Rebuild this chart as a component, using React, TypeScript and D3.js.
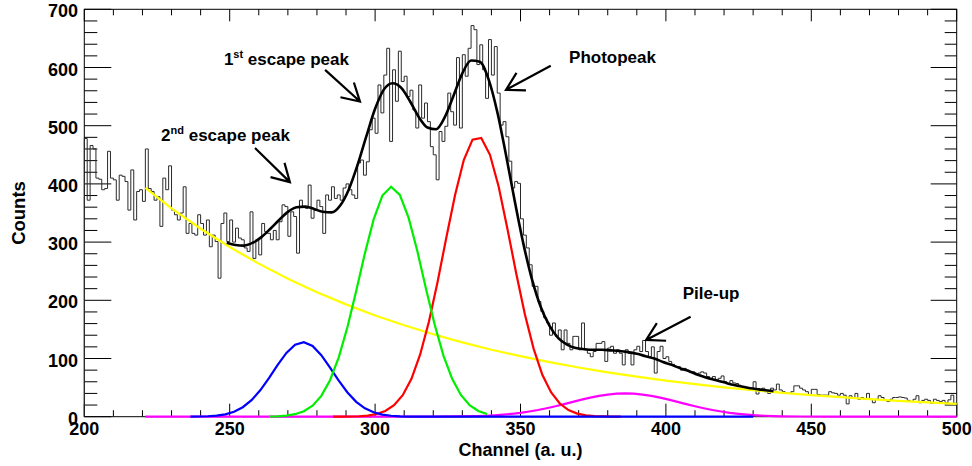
import React from "react";
import * as d3 from "d3";

const WIDTH = 972;
const HEIGHT = 466;
const FRAME = { left: 84.3, right: 956.7, top: 9.3, bottom: 416.7 };
const FONT = "'Liberation Sans', Arial, Helvetica, sans-serif";

// Axis ranges and tick labels
const channelDomain: [number, number] = [200, 500];
const countDomain: [number, number] = [0, 700];
const xMajorTicks = [200, 250, 300, 350, 400, 450, 500];
const yMajorTicks = [0, 100, 200, 300, 400, 500, 600, 700];
const xTitle = "Channel (a. u.)";
const yTitle = "Counts";

// Measured spectrum, one count per channel starting at channel 200
const FIRST_CHANNEL = 200;
const countsFrom200 = [
  478, 372, 466, 460, 410, 408, 390, 392, 456, 410,
  407, 372, 415, 413, 404, 355, 424, 338, 387, 390,
  370, 460, 392, 387, 372, 378, 327, 410, 390, 431,
  355, 347, 338, 350, 395, 315, 332, 315, 312, 347,
  332, 312, 338, 292, 312, 301, 238, 332, 350, 301,
];
const countsFrom250 = [
  338, 300, 324, 307, 304, 290, 284, 352, 272, 304,
  278, 332, 318, 315, 304, 320, 304, 335, 364, 361,
  310, 352, 344, 281, 372, 361, 358, 398, 341, 355,
  372, 361, 315, 381, 372, 395, 375, 381, 372, 393,
  400, 390, 381, 375, 436, 441, 415, 438, 493, 513,
];
const countsFrom300 = [
  487, 570, 522, 587, 633, 473, 596, 542, 628, 576,
  585, 550, 561, 527, 496, 570, 513, 539, 507, 464,
  450, 407, 490, 473, 499, 556, 524, 501, 617, 496,
  622, 585, 633, 672, 665, 605, 639, 596, 547, 648,
  587, 636, 556, 501, 507, 481, 439, 393, 404, 401,
];
const countsFrom350 = [
  340, 312, 290, 261, 224, 224, 198, 181, 170, 161,
  140, 161, 138, 149, 115, 149, 126, 115, 138, 138,
  115, 161, 115, 109, 103, 112, 126, 126, 129, 95,
  118, 121, 109, 115, 109, 89, 115, 109, 89, 115,
  121, 112, 131, 112, 103, 120, 75, 112, 121, 100,
];
const countsFrom400 = [
  103, 95, 90, 86, 86, 80, 83, 80, 77, 77,
  72, 75, 77, 75, 69, 66, 69, 63, 66, 70,
  60, 57, 62, 58, 57, 52, 52, 49, 46, 49,
  60, 39, 46, 49, 43, 40, 49, 46, 56, 46,
  43, 41, 40, 43, 53, 53, 49, 46, 43, 37,
];
const countsFrom450 = [
  47, 47, 38, 37, 37, 37, 43, 41, 40, 37,
  40, 37, 22, 36, 33, 40, 30, 33, 30, 40,
  30, 24, 30, 36, 33, 28, 26, 30, 33, 33,
  34, 33, 32, 28, 26, 30, 36, 24, 28, 30,
  28, 23, 30, 28, 26, 28, 24, 29, 37, 23,
];
const histogramCounts = [
  ...countsFrom200, ...countsFrom250, ...countsFrom300,
  ...countsFrom350, ...countsFrom400, ...countsFrom450,
];

// Fit components as [channel, counts] samples
const backgroundFit: [number, number][] = [
  [221, 393], [230, 358], [240, 323], [250, 291.5], [260, 263], [270, 237],
  [280, 214], [290, 193], [300, 174], [310, 157], [320, 141.6], [330, 127.8],
  [340, 115], [350, 104], [360, 93.8], [370, 84.6], [380, 76.3], [390, 68.8],
  [400, 62.1], [410, 56], [420, 50.5], [430, 45.6], [440, 41.1], [450, 37.1],
  [460, 33.5], [470, 30.2], [480, 27.2], [490, 24.6], [500, 22.2],
];
const secondEscapeFit: [number, number][] = [
  [236.5, 0.1], [239.5, 0.3], [242.5, 0.8], [245.5, 1.8], [248.5, 4.1], [251.5, 8.6],
  [254.5, 16.3], [257.5, 28.4], [260.5, 45.3], [263.5, 66.3], [266.5, 89], [269.5, 109.5],
  [272.5, 123.6], [275.5, 128], [278.5, 121.5], [281.5, 105.8], [284.5, 84.5], [287.5, 61.9],
  [290.5, 41.6], [293.5, 25.6], [296.5, 14.5], [299.5, 7.5], [302.5, 3.6], [305.5, 1.6],
  [308.5, 0.6], [311.5, 0.2], [314.5, 0.1], [430, 0],
];
const firstEscapeFit: [number, number][] = [
  [263.5, 0.3], [266.5, 0.7], [269.5, 1.8], [272.5, 4.3], [275.5, 9.3], [278.5, 19],
  [281.5, 35.8], [284.5, 62.7], [287.5, 102], [290.5, 154], [293.5, 216], [296.5, 281],
  [299.5, 339], [302.5, 380], [305.5, 395], [308.5, 381], [311.5, 342], [314.5, 285],
  [317.5, 220], [320.5, 158], [323.5, 105], [326.5, 65], [329.5, 37.3], [332.5, 19.9],
  [335.5, 9.8], [338.5, 4.5],
];
const photopeakFit: [number, number][] = [
  [285.5, 0], [288.5, 0.1], [291.5, 0.3], [294.5, 0.8], [297.5, 2], [300.5, 4.6],
  [303.5, 9.9], [306.5, 19.8], [309.5, 37], [312.5, 65], [315.5, 107], [318.5, 163],
  [321.5, 232], [324.5, 308], [327.5, 381], [330.5, 441], [333.5, 476], [336.5, 479],
  [339.5, 450], [342.5, 395], [345.5, 323], [348.5, 247], [351.5, 176], [354.5, 117],
  [357.5, 72], [360.5, 42], [363.5, 22.6], [366.5, 11.4], [369.5, 5.3], [372.5, 2.3],
  [375.5, 1], [378.5, 0.4], [381.5, 0.1], [384.5, 0],
];
const pileUpFit: [number, number][] = [
  [221, 0], [320, 0], [335, 1.1], [338, 1.6], [341, 2.4], [344, 3.5], [347, 4.9],
  [350, 6.6], [353, 8.9], [356, 11.5], [359, 14.6], [362, 18], [365, 21.7], [368, 25.5],
  [371, 29.3], [374, 32.8], [377, 35.8], [380, 38], [383, 39.5], [386, 40], [389, 39.5],
  [392, 38], [395, 35.8], [398, 32.8], [401, 29.3], [404, 25.5], [407, 21.7], [410, 18],
  [413, 14.6], [416, 11.5], [419, 8.9], [422, 6.6], [425, 4.9], [428, 3.5], [431, 2.4],
  [434, 1.6], [437, 1.1], [440, 0.7], [446, 0.3], [455, 0], [500, 0],
];
const totalFit: [number, number][] = [
  [249, 299], [252, 295], [255, 294], [258, 299], [261, 309], [264, 323], [267, 338],
  [270, 352], [273, 360], [276, 361], [279, 357], [282, 352], [285, 351], [288, 363],
  [291, 391], [294, 433], [297, 482], [300, 529], [303, 562], [306, 573], [309, 565],
  [312, 542], [315, 515], [318, 497], [321, 494], [324, 515], [327, 552], [330, 590],
  [333, 612], [336, 610], [339, 580], [342, 524], [345, 450], [348, 371], [351, 297],
  [354, 235], [357, 188], [360, 156], [363, 135], [366, 124], [369, 118], [372, 116],
  [375, 115], [378, 115], [381, 114], [384, 113], [387, 111], [390, 108], [393, 104],
  [396, 100], [399, 94], [402, 89], [405, 83], [408, 78], [411, 72], [414, 67],
  [417, 63], [420, 59], [423, 55], [426, 52], [429, 49], [432, 47], [435, 45], [437, 44],
];

// Annotated peaks: label anchor, arrow tail and arrow tip in data coordinates
type Note = { base: string; sup?: string; rest?: string; at: [number, number]; tail: [number, number]; tip: [number, number] };
const notes: Note[] = [
  { base: "2", sup: "nd", rest: " escape peak", at: [226.4, 474], tail: [258.7, 461.7], tip: [270.7, 403] },
  { base: "1", sup: "st", rest: " escape peak", at: [248.0, 604.7], tail: [282.8, 596], tip: [294.8, 541.5] },
  { base: "Photopeak", at: [366.7, 608.1], tail: [360.4, 602.9], tip: [345.0, 561.6] },
  { base: "Pile-up", at: [405.8, 202.3], tail: [408.5, 171.9], tip: [393.2, 131.9] },
];

export default function App() {
  const x = d3.scaleLinear().domain(channelDomain).range([FRAME.left, FRAME.right]);
  const y = d3.scaleLinear().domain(countDomain).range([FRAME.bottom, FRAME.top]);

  const histPoints: [number, number][] = [
    [FIRST_CHANNEL, 0],
    ...histogramCounts.map((c, i) => [FIRST_CHANNEL + i, c] as [number, number]),
    [FIRST_CHANNEL + histogramCounts.length, histogramCounts[histogramCounts.length - 1]],
    [FIRST_CHANNEL + histogramCounts.length, 0],
  ];
  const histLine = d3
    .line<[number, number]>()
    .x((d) => x(d[0]))
    .y((d) => y(d[1]))
    .curve(d3.curveStepAfter);

  const fitLine = d3
    .line<[number, number]>()
    .x((d) => x(d[0]))
    .y((d) => y(d[1]));
  const smoothLine = d3
    .line<[number, number]>()
    .x((d) => x(d[0]))
    .y((d) => y(d[1]))
    .curve(d3.curveMonotoneX);

  const xMinor = d3.range(200, 501, 10).filter((v) => v % 50 !== 0);
  const yMinor = d3.range(0, 701, 20).filter((v) => v % 100 !== 0);

  const arrowPath = (tail: [number, number], tip: [number, number]) => {
    const tx = x(tail[0]), ty = y(tail[1]);
    const px = x(tip[0]), py = y(tip[1]);
    const ang = Math.atan2(py - ty, px - tx);
    const len = 20;
    const spread = (30 * Math.PI) / 180;
    const a1 = ang + Math.PI - spread;
    const a2 = ang + Math.PI + spread;
    const p = d3.path();
    p.moveTo(tx, ty);
    p.lineTo(px, py);
    p.moveTo(px + len * Math.cos(a1), py + len * Math.sin(a1));
    p.lineTo(px, py);
    p.lineTo(px + len * Math.cos(a2), py + len * Math.sin(a2));
    return p.toString();
  };

  return (
    <svg
      width={WIDTH}
      height={HEIGHT}
      style={{ position: "absolute", left: 0, top: 0, background: "#fff" }}
      fontFamily={FONT}
    >
      <rect x={0} y={0} width={WIDTH} height={HEIGHT} fill="#fff" />

      {/* frame */}
      <rect
        x={FRAME.left}
        y={FRAME.top}
        width={FRAME.right - FRAME.left}
        height={FRAME.bottom - FRAME.top}
        fill="none"
        stroke="#000"
        strokeWidth={1}
      />

      {/* ticks */}
      <g stroke="#000" strokeWidth={1}>
        {xMajorTicks.map((v) => (
          <g key={`xM${v}`}>
            <line x1={x(v)} x2={x(v)} y1={FRAME.bottom} y2={FRAME.bottom - 13} />
            <line x1={x(v)} x2={x(v)} y1={FRAME.top} y2={FRAME.top + 12} />
          </g>
        ))}
        {xMinor.map((v) => (
          <g key={`xm${v}`}>
            <line x1={x(v)} x2={x(v)} y1={FRAME.bottom} y2={FRAME.bottom - 6.5} />
            <line x1={x(v)} x2={x(v)} y1={FRAME.top} y2={FRAME.top + 6} />
          </g>
        ))}
        {yMajorTicks.map((v) => (
          <g key={`yM${v}`}>
            <line x1={FRAME.left} x2={FRAME.left + 27} y1={y(v)} y2={y(v)} />
            <line x1={FRAME.right} x2={FRAME.right - 26} y1={y(v)} y2={y(v)} />
          </g>
        ))}
        {yMinor.map((v) => (
          <g key={`ym${v}`}>
            <line x1={FRAME.left} x2={FRAME.left + 13} y1={y(v)} y2={y(v)} />
            <line x1={FRAME.right} x2={FRAME.right - 12} y1={y(v)} y2={y(v)} />
          </g>
        ))}
      </g>

      {/* measured spectrum */}
      <path d={histLine(histPoints) || ""} fill="none" stroke="#2a2a2a" strokeWidth={1} />

      {/* fit components */}
      <path d={fitLine(backgroundFit) || ""} fill="none" stroke="#ffff00" strokeWidth={2.2} />
      <path d={fitLine(pileUpFit) || ""} fill="none" stroke="#ff00ff" strokeWidth={2.2} />
      <path d={fitLine(photopeakFit) || ""} fill="none" stroke="#ff0000" strokeWidth={2.2} />
      <path d={fitLine(secondEscapeFit) || ""} fill="none" stroke="#0000ff" strokeWidth={2.2} />
      <path d={fitLine(firstEscapeFit) || ""} fill="none" stroke="#00ee00" strokeWidth={2.2} />
      <path d={smoothLine(totalFit) || ""} fill="none" stroke="#000" strokeWidth={2.6} />

      {/* tick labels */}
      <g fontSize={18} fontWeight="bold" fill="#000">
        {xMajorTicks.map((v) => (
          <text key={`xl${v}`} x={x(v)} y={435} textAnchor="middle">
            {v}
          </text>
        ))}
        {yMajorTicks.map((v) => (
          <text key={`yl${v}`} x={78} y={y(v) + 8} textAnchor="end">
            {v}
          </text>
        ))}
      </g>

      {/* axis titles */}
      <text
        x={(FRAME.left + FRAME.right) / 2}
        y={455.5}
        textAnchor="middle"
        fontSize={18}
        fontWeight="bold"
      >
        {xTitle}
      </text>
      <text
        transform={`translate(24.5, ${(FRAME.top + FRAME.bottom) / 2}) rotate(-90)`}
        textAnchor="middle"
        fontSize={18.5}
        fontWeight="bold"
      >
        {yTitle}
      </text>

      {/* annotations */}
      {notes.map((n) => (
        <g key={n.base + (n.rest || "")}>
          <text x={x(n.at[0])} y={y(n.at[1])} fontSize={17} fontWeight="bold">
            {n.base}
            {n.sup && (
              <tspan dy={-7} fontSize={11}>
                {n.sup}
              </tspan>
            )}
            {n.rest && (
              <tspan dy={7} fontSize={17}>
                {n.rest}
              </tspan>
            )}
          </text>
          <path d={arrowPath(n.tail, n.tip)} fill="none" stroke="#000" strokeWidth={2.2} />
        </g>
      ))}
    </svg>
  );
}
